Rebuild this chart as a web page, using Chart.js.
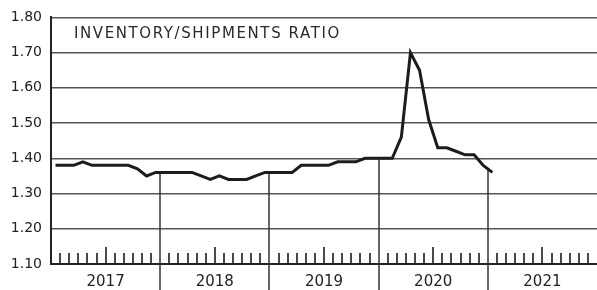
<!DOCTYPE html>
<html>
<head>
<meta charset="utf-8">
<script src="https://cdn.jsdelivr.net/npm/chart.js@4.4.0/dist/chart.umd.min.js"></script>
<style>
  html, body { margin: 0; padding: 0; background: #fff; }
  #wrap { width: 597px; height: 290px; }
</style>
</head>
<body>
<div id="wrap"><canvas id="c" width="597" height="290"></canvas></div>
<script>
// ratio stocks / expéditions, mensuel de janv. 2017 à janv. 2021
const years = ['2017', '2018', '2019', '2020', '2021'];
const ratio = [
  1.38, 1.38, 1.38, 1.39, 1.38, 1.38, 1.38, 1.38, 1.38, 1.37, 1.35, 1.36, // 2017
  1.36, 1.36, 1.36, 1.36, 1.35, 1.34, 1.35, 1.34, 1.34, 1.34, 1.35, 1.36, // 2018
  1.36, 1.36, 1.36, 1.38, 1.38, 1.38, 1.38, 1.39, 1.39, 1.39, 1.40, 1.40, // 2019
  1.40, 1.40, 1.46, 1.70, 1.65, 1.51, 1.43, 1.43, 1.42, 1.41, 1.41, 1.38, // 2020
  1.36                                                                    // 2021
];
const yTicks = [1.10, 1.20, 1.30, 1.40, 1.50, 1.60, 1.70, 1.80];
const chartTitle = 'INVENTORY/SHIPMENTS RATIO';

const FONT = "'DejaVu Sans', sans-serif";
const months = years.length * 12;

// points au milieu de chaque mois
const points = ratio.map((v, i) => ({ x: i + 0.5, y: v }));

const decorations = {
    id: 'decorations',
    beforeDatasetsDraw(chart) {
        const ctx = chart.ctx;
        const xs = chart.scales.x;
        const ys = chart.scales.y;
        const bottom = ys.getPixelForValue(yTicks[0]);
        ctx.save();
        // petites graduations mensuelles, plus hautes en milieu d'année
        ctx.strokeStyle = '#1c1c1c';
        ctx.lineWidth = 1.6;
        for (let m = 1; m < months; m++) {
            if (m % 12 === 0) continue;
            const x = Math.round(xs.getPixelForValue(m));
            const h = (m % 12 === 6) ? 17 : 11;
            ctx.beginPath();
            ctx.moveTo(x, bottom);
            ctx.lineTo(x, bottom - h);
            ctx.stroke();
        }
        // séparateurs d'années, de la courbe jusqu'en bas
        ctx.strokeStyle = '#333';
        ctx.lineWidth = 1.5;
        for (let yr = 1; yr < years.length; yr++) {
            const m = yr * 12;
            if (m >= ratio.length) continue;
            const v = (ratio[m - 1] + ratio[m]) / 2;
            const x = Math.round(xs.getPixelForValue(m));
            ctx.beginPath();
            ctx.moveTo(x, ys.getPixelForValue(v));
            ctx.lineTo(x, chart.height);
            ctx.stroke();
        }
        ctx.restore();
    },
    afterDraw(chart) {
        const ctx = chart.ctx;
        ctx.save();
        ctx.fillStyle = '#2a2a2a';
        ctx.font = '15px ' + FONT;
        ctx.letterSpacing = '1.6px';
        ctx.textBaseline = 'alphabetic';
        ctx.fillText(chartTitle, chart.chartArea.left + 23, 38);
        ctx.restore();
    }
};

new Chart(document.getElementById('c').getContext('2d'), {
    type: 'line',
    data: {
        datasets: [{
            data: points,
            borderColor: '#1c1c1c',
            borderWidth: 3,
            pointRadius: 0,
            tension: 0,
            fill: false,
            borderJoinStyle: 'miter'
        }]
    },
    options: {
        responsive: false,
        animation: false,
        layout: { padding: { top: 10, right: 0, left: 0, bottom: 0 } },
        plugins: {
            legend: { display: false },
            tooltip: { enabled: false }
        },
        scales: {
            x: {
                type: 'linear',
                min: 0,
                max: months,
                grid: { display: false, drawTicks: false },
                border: { display: true, color: '#222', width: 2 },
                afterBuildTicks(scale) {
                    scale.ticks = years.map((y, i) => ({ value: i * 12 + 6 }));
                },
                afterFit(scale) { scale.height = 26; },
                ticks: {
                    autoSkip: false,
                    maxRotation: 0,
                    padding: 9,
                    color: '#222',
                    font: { family: FONT, size: 15 },
                    callback: (value) => years[Math.round((value - 6) / 12)]
                }
            },
            y: {
                min: yTicks[0],
                max: yTicks[yTicks.length - 1],
                afterBuildTicks(scale) {
                    scale.ticks = yTicks.map(v => ({ value: v }));
                },
                afterFit(scale) { scale.width = 51; },
                grid: { color: '#555', lineWidth: 1.5, drawTicks: false },
                border: { display: true, color: '#222', width: 2 },
                ticks: {
                    padding: 9,
                    color: '#222',
                    font: { family: FONT, size: 14 },
                    callback: (value) => Number(value).toFixed(2)
                }
            }
        }
    },
    plugins: [decorations]
});
</script>
</body>
</html>
